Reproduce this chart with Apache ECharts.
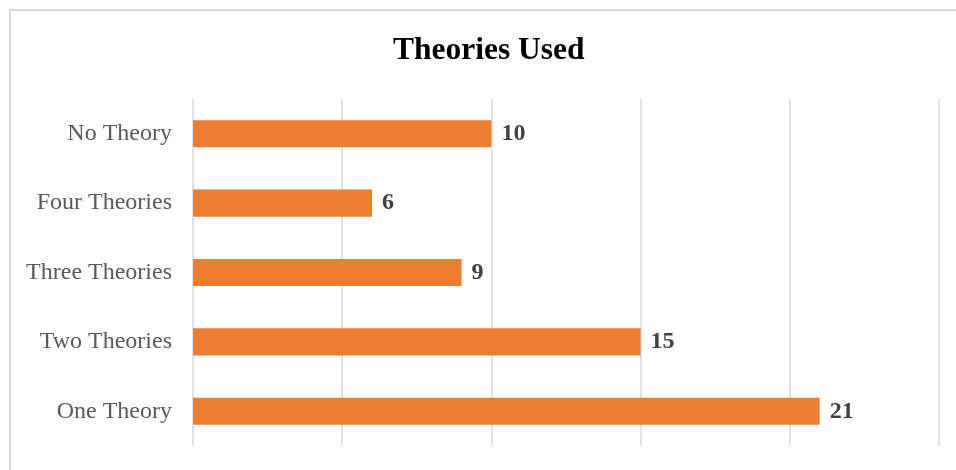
<!DOCTYPE html>
<html>
<head>
<meta charset="utf-8">
<script src="https://cdn.jsdelivr.net/npm/echarts@6/dist/echarts.min.js"></script>
<style>
  html, body { margin: 0; padding: 0; background: #fff; }
  #frame { position: absolute; left: 9px; top: 9px; width: 980px; height: 500px; border: 2px solid #d9d9d9; box-sizing: border-box; }
  #chart { position: absolute; left: 0; top: 0; width: 956px; height: 470px; }
</style>
</head>
<body>
<div id="frame"></div>
<div id="chart"></div>
<script>
// Number of theories used, listed bottom to top on the category axis
const categories = ['One Theory', 'Two Theories', 'Three Theories', 'Four Theories', 'No Theory'];
const counts = [21, 15, 9, 6, 10];

const chart = echarts.init(document.getElementById('chart'));
chart.setOption({
  animation: false,
  title: {
    text: 'Theories Used',
    left: 388,
    top: 30,
    textStyle: { fontFamily: 'Liberation Serif', fontWeight: 'bold', fontSize: 31.5, color: '#000' }
  },
  grid: { left: 193, right: 17, top: 99, bottom: 24 },
  xAxis: {
    type: 'value',
    min: 0,
    max: 25,
    interval: 5,
    axisLabel: { show: false },
    axisLine: { show: false },
    axisTick: { show: false },
    splitLine: { lineStyle: { color: '#d9d9d9', width: 1.5 } }
  },
  yAxis: {
    type: 'category',
    data: categories,
    axisLine: { show: false },
    axisTick: { show: false },
    axisLabel: {
      fontFamily: 'Liberation Serif', fontSize: 24, color: '#595959', margin: 21,
      padding: [4, 0, 0, 0]
    }
  },
  series: [{
    type: 'bar',
    data: counts,
    barWidth: '39%',
    itemStyle: { color: '#ed7d31' },
    label: {
      show: true,
      position: 'right',
      distance: 10,
      padding: [4, 0, 0, 0],
      fontFamily: 'Liberation Serif',
      fontWeight: 'bold',
      fontSize: 24,
      color: '#404040'
    }
  }]
});
</script>
</body>
</html>
